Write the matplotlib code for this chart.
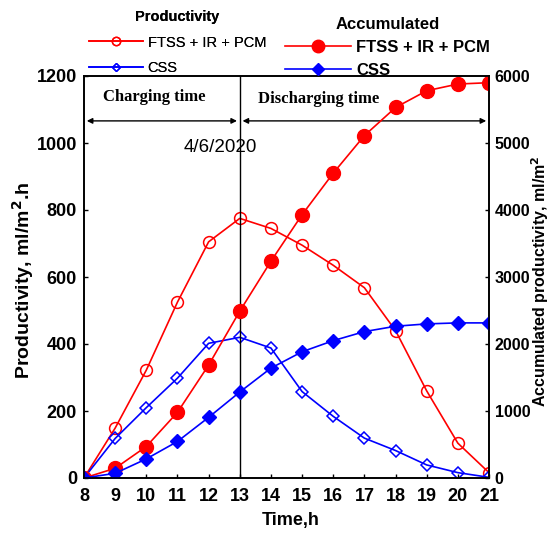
import numpy as np
import matplotlib.pyplot as plt
from matplotlib.lines import Line2D

# data
hours = [8, 9, 10, 11, 12, 13, 14, 15, 16, 17, 18, 19, 20, 21]
prod_ftss = [0, 149, 322, 525, 705, 775, 745, 695, 635, 568, 440, 260, 104, 16]
prod_css = [0, 118, 210, 298, 402, 420, 388, 258, 184, 119, 82, 39, 16, 2]
acc_ftss = [0, 145, 470, 980, 1685, 2490, 3235, 3930, 4550, 5110, 5530, 5780, 5880, 5900]
acc_css = [0, 70, 285, 545, 905, 1283, 1640, 1884, 2050, 2185, 2265, 2300, 2315, 2315]

RED = "#ff0000"
BLUE = "#0000ff"

plt.rcParams['font.family'] = ['Liberation Sans', 'DejaVu Sans']

W, H = 551, 536
fig = plt.figure(figsize=(W / 100, H / 100), dpi=100)
ax = fig.add_axes([84 / W, 1 - 478 / H, 405 / W, 402 / H])
ax2 = ax.twinx()

# productivity (left axis)
ax.plot(hours, prod_ftss, color=RED, lw=1.2, marker='o', ms=8.5, mfc='none', mec=RED, mew=1.1)
ax.plot(hours, prod_css, color=BLUE, lw=1.2, marker='D', ms=6.5, mfc='none', mec=BLUE, mew=1.1)

# accumulated (right axis)
ax2.plot(hours, acc_ftss, color=RED, lw=1.2, marker='o', ms=10, mfc=RED, mec=RED)
ax2.plot(hours, acc_css, color=BLUE, lw=1.2, marker='D', ms=7, mfc=BLUE, mec=BLUE)

ax.set_xlim(8, 21)
ax.set_ylim(0, 1200)
ax2.set_ylim(0, 6000)
ax.set_xticks(hours)
ax.set_yticks(range(0, 1201, 200))
ax2.set_yticks(range(0, 6001, 1000))

ax.tick_params(axis='x', direction='in', labelsize=13, width=1, length=3, pad=7)
ax.tick_params(axis='y', direction='in', labelsize=13, width=1, length=3, pad=5)
ax2.tick_params(axis='y', direction='in', labelsize=11.5, width=1, length=3, pad=4)
for a in (ax, ax2):
    for lab in a.get_xticklabels() + a.get_yticklabels():
        lab.set_fontweight('bold')
    for sp in a.spines.values():
        sp.set_linewidth(1.2)

ax.set_xlabel("Time,h", fontsize=13, fontweight='bold')
ax.xaxis.set_label_coords(0.51, -0.085)
ax.set_ylabel("Productivity, ml/m$\\mathbf{^2}$.h", fontsize=14, fontweight='bold')
ax.yaxis.set_label_coords(-0.119, 0.4925)
ax2.set_ylabel("Accumulated productivity, ml/m$\\mathbf{^2}$", fontsize=11.5, fontweight='bold')
ax2.yaxis.set_label_coords(1.1, 0.49)

# charging / discharging markers
ax.axvline(13, color='black', lw=1)
ax.annotate("", xy=(8, 1066), xytext=(13, 1066),
            arrowprops=dict(arrowstyle='<|-|>', color='black', lw=1, mutation_scale=8))
ax.annotate("", xy=(13, 1066), xytext=(21, 1066),
            arrowprops=dict(arrowstyle='<|-|>', color='black', lw=1, mutation_scale=8))
ax.text(8.6, 1137, "Charging time", family='Liberation Serif', fontweight='bold', fontsize=12, va='center')
ax.text(13.6, 1131, "Discharging time", family='Liberation Serif', fontweight='bold', fontsize=12, va='center')
ax.text(12.38, 988, "4/6/2020", fontsize=13.5, ha='center', va='center')

# legends
h1 = [Line2D([], [], color=RED, lw=1.2, marker='o', ms=6, mfc='none', mec=RED),
      Line2D([], [], color=BLUE, lw=1.2, marker='D', ms=4.5, mfc='none', mec=BLUE)]
leg1 = fig.legend(h1, ["FTSS + IR + PCM", "CSS"], title="Productivity",
                  loc='upper left', bbox_to_anchor=(83 / W, 1 - 4 / H), frameon=False,
                  borderaxespad=0, handlelength=3.7, labelspacing=0.8, handletextpad=0.34,
                  prop={'size': 10.5},
                  title_fontproperties={'size': 10.5, 'weight': 'bold'})
h2 = [Line2D([], [], color=RED, lw=1.2, marker='o', ms=9, mfc=RED, mec=RED),
      Line2D([], [], color=BLUE, lw=1.2, marker='D', ms=6, mfc=BLUE, mec=BLUE)]
fig.legend(h2, ["FTSS + IR + PCM", "CSS"], title="Accumulated",
           loc='upper left', bbox_to_anchor=(278 / W, 1 - 10 / H), frameon=False,
           borderaxespad=0, handlelength=4.0, labelspacing=0.5, handletextpad=0.3,
           prop={'size': 12, 'weight': 'bold'},
           title_fontproperties={'size': 12, 'weight': 'bold'})
fig.add_artist(leg1)

fig.savefig("out.png", dpi=100)
